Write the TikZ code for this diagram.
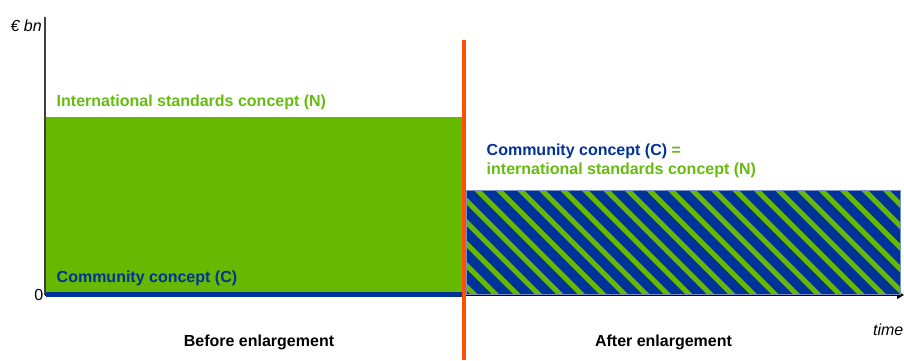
\documentclass[tikz,border=0pt]{standalone}
\usepackage{fontspec}
\setmainfont{Liberation Sans}
\usetikzlibrary{arrows.meta}
\definecolor{cgreen}{RGB}{102,184,0}
\definecolor{tgreen}{RGB}{102,187,17}
\definecolor{cblue}{RGB}{0,51,153}
\definecolor{corange}{RGB}{255,80,0}
\definecolor{cborder}{RGB}{120,145,200}
\definecolor{caxis}{RGB}{64,64,64}
\tikzset{
  lbl/.style={font=\fontsize{16}{19}\selectfont\bfseries, inner sep=0pt, anchor=base west},
  axislbl/.style={font=\fontsize{16}{19}\selectfont\itshape, inner sep=0pt},
  axisline/.style={draw=caxis, line width=1.6pt},
}
\begin{document}
\begin{tikzpicture}[x=1pt,y=-1pt]
\useasboundingbox (0,0) rectangle (904,360);
% axes
\coordinate (orig) at (44.7,295);
\coordinate (ytop) at (44.7,16.7);
\coordinate (xend) at (904,295);
\draw[axisline] (ytop) -- (orig);
\draw[draw=black, line width=1.2pt, -{Triangle[length=7pt,width=8pt]}] (orig) -- (xend);
% before: green area
\fill[cgreen] (45.5,116.7) rectangle (462,293);
\fill[cblue] (45.5,292) rectangle (462,296.5);
% after: hatched area
\begin{scope}
\clip (466,190.7) rectangle (900,294);
\fill[cblue] (466,190.7) rectangle (900,294);
\foreach \k in {-6,...,21} {
  \draw[cgreen, line width=5.2pt] ({478+21.5*\k-20},170.7) -- ({478+21.5*\k+130},320.7);
}
\end{scope}
\draw[cborder, line width=0.9pt] (466,190.7) rectangle (900,294);
% separator
\coordinate (septop) at (463.8,40);
\coordinate (sepbot) at (463.8,360);
\draw[corange, line width=4pt] (septop) -- (sepbot);
% labels
\node[axislbl, anchor=base east] (ylab) at (42,31.5) {€ bn};
\node[font=\fontsize{16}{19}\selectfont, inner sep=0pt, anchor=base east] (zero) at (43.5,300.5) {0};
\node[axislbl, anchor=base east] (xlab) at (903.5,335) {time};
\node[lbl, text=tgreen] (nlab) at (56.5,106.5) {International standards concept (N)};
\node[lbl, text=cblue] (clab) at (56.5,282.3) {Community concept (C)};
\node[lbl, text=cblue] (cnlab1) at (486.5,155) {Community concept (C) \textcolor{tgreen}{=}};
\node[lbl, text=tgreen] (cnlab2) at (486.5,174) {international standards concept (N)};
\node[lbl, anchor=base] (before) at (259,346) {Before enlargement};
\node[lbl, anchor=base] (after) at (663.5,346) {After enlargement};
\end{tikzpicture}
\end{document}
